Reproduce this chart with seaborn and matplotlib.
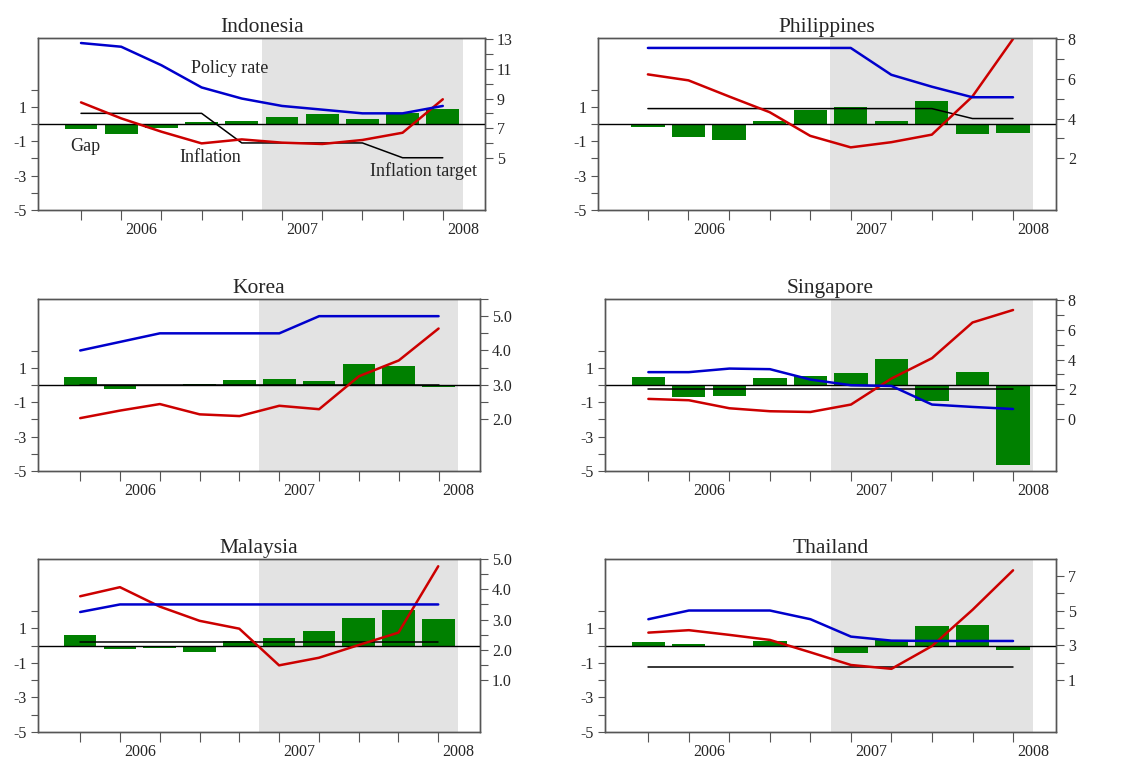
import numpy as np
import matplotlib
matplotlib.use("Agg")
import matplotlib.pyplot as plt
import seaborn as sns

# ══════════════════════════════════════════
#  DATA (quarterly, 2006Q1 - 2008Q2)
# ══════════════════════════════════════════
QUARTERS = ["2006Q1", "2006Q2", "2006Q3", "2006Q4",
            "2007Q1", "2007Q2", "2007Q3", "2007Q4",
            "2008Q1", "2008Q2"]
YEARS = ["2006", "2007", "2008"]
COUNTRIES = ["Indonesia", "Philippines", "Korea",
             "Singapore", "Malaysia", "Thailand"]

gap_indonesia    = [-0.27, -0.60, -0.21, 0.12, 0.15, 0.41, 0.58, 0.27, 0.62, 0.89]
policy_indonesia = [12.75, 12.5, 11.25, 9.75, 9.0, 8.5, 8.25, 8.0, 8.0, 8.5]
infl_indonesia   = [8.74, 7.66, 6.76, 5.97, 6.24, 6.02, 5.93, 6.20, 6.69, 8.95]
target_indonesia = [8, 8, 8, 8, 6, 6, 6, 6, 5, 5]

gap_philippines    = [-0.15, -0.75, -0.93, 0.19, 0.83, 0.97, 0.17, 1.33, -0.58, -0.52]
policy_philippines = [7.55, 7.55, 7.55, 7.55, 7.55, 7.55, 6.2, 5.6, 5.07, 5.07]
infl_philippines   = [6.22, 5.92, 5.11, 4.32, 3.13, 2.55, 2.81, 3.19, 5.11, 8.0]
target_philippines = [4.5, 4.5, 4.5, 4.5, 4.5, 4.5, 4.5, 4.5, 4.0, 4.0]

gap_korea    = [0.48, -0.25, 0.01, 0.06, 0.29, 0.33, 0.21, 1.24, 1.12, -0.10]
policy_korea = [4.0, 4.25, 4.5, 4.5, 4.5, 4.5, 5.0, 5.0, 5.0, 5.0]
infl_korea   = [2.03, 2.25, 2.44, 2.14, 2.09, 2.39, 2.29, 3.25, 3.71, 4.64]
target_korea = [3.0] * 10

gap_singapore    = [0.48, -0.68, -0.62, 0.41, 0.52, 0.72, 1.49, -0.91, 0.75, -4.64]
policy_singapore = [3.15, 3.15, 3.39, 3.35, 2.65, 2.27, 2.22, 0.97, 0.81, 0.67]
infl_singapore   = [1.35, 1.26, 0.72, 0.52, 0.47, 0.97, 2.72, 4.09, 6.49, 7.33]
target_singapore = [2.0] * 10

gap_malaysia    = [0.58, -0.23, -0.14, -0.35, 0.25, 0.41, 0.85, 1.61, 2.03, 1.55]
policy_malaysia = [3.25, 3.5, 3.5, 3.5, 3.5, 3.5, 3.5, 3.5, 3.5, 3.5]
infl_malaysia   = [3.77, 4.07, 3.43, 2.96, 2.70, 1.49, 1.74, 2.16, 2.57, 4.76]
target_malaysia = [2.25] * 10

gap_thailand    = [0.19, 0.06, -0.10, 0.27, -0.06, -0.41, 0.31, 1.12, 1.18, -0.25]
policy_thailand = [4.5, 5.0, 5.0, 5.0, 4.5, 3.5, 3.27, 3.25, 3.25, 3.25]
infl_thailand   = [3.73, 3.87, 3.60, 3.31, 2.60, 1.87, 1.65, 2.96, 5.04, 7.31]
target_thailand = [1.75] * 10

GAPS    = [gap_indonesia, gap_philippines, gap_korea,
           gap_singapore, gap_malaysia, gap_thailand]
POLICY  = [policy_indonesia, policy_philippines, policy_korea,
           policy_singapore, policy_malaysia, policy_thailand]
INFL    = [infl_indonesia, infl_philippines, infl_korea,
           infl_singapore, infl_malaysia, infl_thailand]
TARGETS = [target_indonesia, target_philippines, target_korea,
           target_singapore, target_malaysia, target_thailand]

# ══════════════════════════════════════════
#  LAYOUT / STYLE
# ══════════════════════════════════════════
W, H = 1125, 767
# axes boxes in pixels: left, top, right, bottom
BOXES = [(38, 38, 485, 210), (598, 38, 1056, 210),
         (38, 299, 480, 471), (605, 299, 1056, 471),
         (38, 559, 480, 732), (605, 559, 1056, 732)]
XLIMS = [(-1.07, 10.05), (-1.23, 10.06), (-1.06, 10.04),
         (-1.07, 10.06), (-1.06, 10.05), (-1.07, 10.06)]
RLIMS = [(1.47, 13.09), (-0.6, 8.05), (0.49, 5.49),
         (-3.5, 8.07), (-0.71, 5.0), (-1.98, 7.96)]
RTICKS = [np.arange(5, 14, 1), np.arange(2, 9, 1), np.arange(2.0, 5.51, 0.5),
          np.arange(0, 9, 1), np.arange(1.0, 5.01, 0.5), np.arange(1, 8, 1)]
RLABELED = [[5, 7, 9, 11, 13], [2, 4, 6, 8], [2, 3, 4, 5],
            [0, 2, 4, 6, 8], [1, 2, 3, 4, 5], [1, 3, 5, 7]]
RFMT = ["{:.0f}", "{:.0f}", "{:.1f}", "{:.0f}", "{:.1f}", "{:.0f}"]

GREEN = "#008000"
BLUE  = "#0000CC"
RED   = "#CC0000"
SHADE = "#E3E3E3"
SPINE = "#555555"

sns.set_style("ticks")
plt.rcParams["font.family"] = ["Liberation Serif", "DejaVu Serif"]

fig = plt.figure(figsize=(W / 100, H / 100), dpi=100)
idx = np.arange(len(QUARTERS))

for k, name in enumerate(COUNTRIES):
    l, t, r, b = BOXES[k]
    ax = fig.add_axes([l / W, 1 - b / H, (r - l) / W, (b - t) / H])
    ax2 = ax.twinx()

    ax.axvspan(4.5, 9.5, color=SHADE, lw=0, zorder=0)
    sns.barplot(x=idx, y=GAPS[k], ax=ax, color=GREEN, saturation=1,
                width=0.82, errorbar=None, linewidth=0, zorder=2)
    ax.axhline(0, color="black", lw=1, zorder=3)

    sns.lineplot(x=idx, y=TARGETS[k], ax=ax2, color="black", lw=1.1)
    sns.lineplot(x=idx, y=INFL[k], ax=ax2, color=RED, lw=1.8)
    sns.lineplot(x=idx, y=POLICY[k], ax=ax2, color=BLUE, lw=1.8)

    # left axis: output gap
    ax.set_ylim(-5, 5)
    ax.set_yticks(np.arange(-5, 3, 1))
    ax.set_yticklabels([str(v) if v % 2 else "" for v in range(-5, 3)])
    ax.set_ylabel("")
    ax.set_xlabel("")

    # right axis: rates
    ax2.set_ylim(*RLIMS[k])
    ax2.set_yticks(RTICKS[k])
    ax2.set_yticklabels([RFMT[k].format(v) if np.isclose(v, np.round(v)) and
                         round(v) in RLABELED[k] else "" for v in RTICKS[k]])
    ax2.set_ylabel("")

    # x axis: quarter ticks, year labels in between
    ax.set_xlim(*XLIMS[k])
    ax.set_xticks(idx)
    ax.set_xticklabels([""] * len(idx))
    ax.set_xticks([1.5, 5.5, 9.5], minor=True)
    ax.set_xticklabels(YEARS, minor=True)
    ax.tick_params(axis="x", which="major", length=7, color=SPINE)
    ax.tick_params(axis="x", which="minor", length=0, pad=9, labelsize=11.5)
    ax.tick_params(axis="y", length=5, color=SPINE, pad=3, labelsize=11.5)
    ax2.tick_params(axis="y", length=5.5, color=SPINE, pad=3, labelsize=11.5)

    for a in (ax, ax2):
        for s in a.spines.values():
            s.set_visible(True)
            s.set_color(SPINE)
            s.set_linewidth(1)

    ax.set_title(name, fontsize=15.5, pad=4)

    if name == "Indonesia":
        ax.text(3.7, 3.2, "Policy rate", fontsize=13, ha="center", va="center")
        ax.text(0.1, -1.33, "Gap", fontsize=13, ha="center", va="center")
        ax.text(3.21, -1.97, "Inflation", fontsize=13, ha="center", va="center")
        ax.text(8.51, -2.72, "Inflation target", fontsize=13,
                ha="center", va="center")

plt.savefig("out.png", dpi=100)
plt.close()
